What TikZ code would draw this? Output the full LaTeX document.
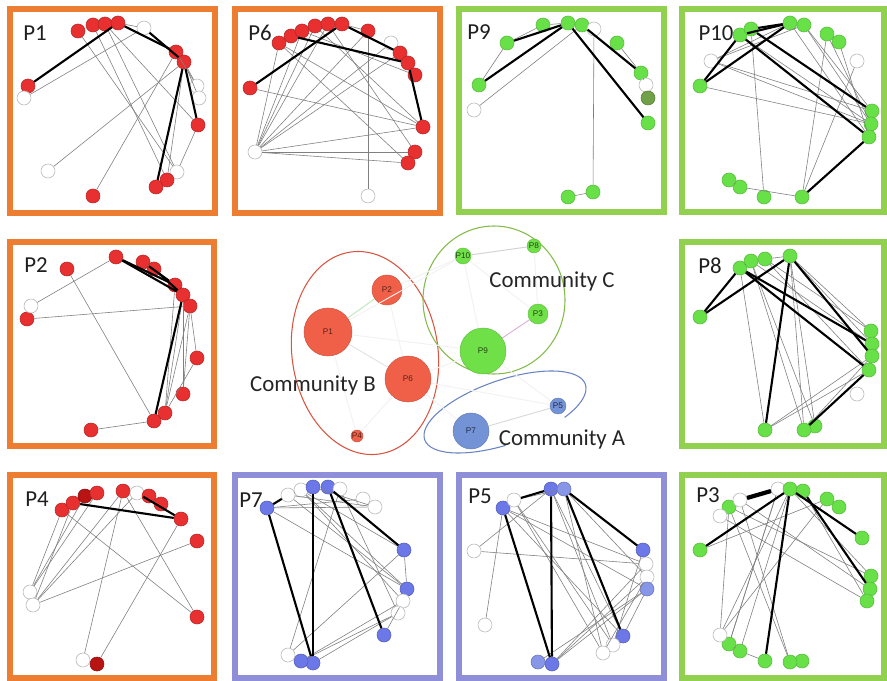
\documentclass[tikz,border=0pt]{standalone}
\usepackage{fontspec}
\setmainfont{Carlito}
\setsansfont{Liberation Sans}
\definecolor{frO}{RGB}{237,125,49}
\definecolor{frG}{RGB}{146,208,80}
\definecolor{frB}{RGB}{143,143,217}
\definecolor{ndR}{RGB}{232,48,48}
\definecolor{ndD}{RGB}{185,20,20}
\definecolor{ndG}{RGB}{104,224,72}
\definecolor{ndO}{RGB}{112,160,72}
\definecolor{ndB}{RGB}{108,120,232}
\definecolor{ndL}{RGB}{136,150,232}
\definecolor{cmR}{RGB}{240,96,72}
\definecolor{cmG}{RGB}{112,224,72}
\definecolor{cmB}{RGB}{116,146,214}
\begin{document}
\begin{tikzpicture}[x=0.03cm, y=-0.03cm,
  box/.style={line width=4.3pt},
  lbl/.style={font=\fontsize{19.5}{22}\selectfont, text=black!88},
  vx/.style={circle, draw, line width=0.5pt, minimum size=4.2mm, inner sep=0pt},
  rn/.style={vx, fill=ndR, draw=ndR!80!black},
  dr/.style={vx, fill=ndD, draw=ndD!80!black},
  gn/.style={vx, fill=ndG, draw=ndG!85!black},
  ov/.style={vx, fill=ndO, draw=ndO!80!black},
  bn/.style={vx, fill=ndB, draw=ndB!80!black},
  lb/.style={vx, fill=ndL, draw=ndL!80!black},
  wn/.style={vx, fill=white, draw=gray!55},
  lk/.style={draw=black!50, line width=0.5pt},
  hk/.style={draw=black, line width=1.8pt},
  cnode/.style={circle, inner sep=0pt, font=\sffamily\fontsize{7}{8}\selectfont},
  cr/.style={cnode, fill=cmR, draw=cmR!85!black, text=cmR!35!black},
  cg/.style={cnode, fill=cmG, draw=cmG!85!black, text=cmG!30!black},
  cb/.style={cnode, fill=cmB, draw=cmB!85!black, text=cmB!30!black},
  ce/.style={draw=gray!22, line width=0.8pt},
  comm/.style={font=\fontsize{19.5}{22}\selectfont, text=black!85}]
\useasboundingbox (0,0) rectangle (887,681);
\fill[white] (0,0) rectangle (887,681);

\draw[box, draw=frO] (10,9) rectangle (215,213);
\draw[box, draw=frO] (235,9) rectangle (440,213);
\draw[box, draw=frG] (459,9) rectangle (664,212);
\draw[box, draw=frG] (682,9) rectangle (884,212);
\draw[box, draw=frO] (10,242) rectangle (214,446);
\draw[box, draw=frG] (682,242) rectangle (884,446);
\draw[box, draw=frO] (10,475) rectangle (214,678);
\draw[box, draw=frB] (235,475) rectangle (440,678);
\draw[box, draw=frB] (459,475) rectangle (664,678);
\draw[box, draw=frG] (682,475) rectangle (884,678);

\node[lbl] (t1) at (35,33) {P1};
\node[lbl] (t6) at (260,33) {P6};
\node[lbl] (t9) at (479,32) {P9};
\node[lbl] (t10) at (716,33) {P10};
\node[lbl] (t2) at (36,265) {P2};
\node[lbl] (t8) at (710,266) {P8};
\node[lbl] (t4) at (37,499) {P4};
\node[lbl] (t7) at (251,500) {P7};
\node[lbl] (t5) at (480,496) {P5};
\node[lbl] (t3) at (708,495) {P3};

\foreach \n/\s/\x/\y in {a/rn/78/31, b/rn/93/25, c/rn/105/24, d/rn/118/23, e/wn/144/28, f/rn/176/52,
  g/rn/184/62, h/wn/197/86, i/wn/199/98, j/rn/198/125, k/wn/177/172, l/rn/167/180, m/rn/156/187,
  n/rn/93/196, o/wn/48/171, p/rn/28/86, q/wn/24/98}
  \node[\s] (p1\n) at (\x,\y) {};
\foreach \u/\v in {q/e, a/k, b/l, c/j, c/k, f/n, g/o, g/l, g/h, g/i, j/k, d/e, f/h}
  \draw[lk] (p1\u) -- (p1\v);
\foreach \u/\v in {p/d, d/f, e/g, g/m, g/j}
  \draw[hk] (p1\u) -- (p1\v);

\foreach \n/\s/\x/\y in {a/rn/279/43, b/rn/291/36, c/rn/302/31, d/rn/315/26, e/rn/328/24, f/rn/342/24,
  g/rn/368/31, h/wn/391/43, i/rn/400/53, j/rn/408/63, k/rn/415/75, l/rn/423/127, m/rn/415/152,
  n/rn/408/163, o/wn/368/196, p/wn/255/152, q/rn/250/88}
  \node[\s] (p6\n) at (\x,\y) {};
\foreach \u/\v in {p/a, p/c, p/d, p/e, p/g, p/h, p/i, p/l, p/n, p/m, q/l, o/g, a/l, d/l, c/k, e/m,
  a/n, h/i, f/g}
  \draw[lk] (p6\u) -- (p6\v);
\foreach \u/\v in {q/f, b/j, f/i, j/l}
  \draw[hk] (p6\u) -- (p6\v);

\foreach \n/\s/\x/\y in {a/gn/543/25, b/gn/568/23, c/gn/582/25, d/wn/594/29, e/gn/617/43, f/gn/641/73,
  g/wn/646/85, h/ov/648/98, i/gn/648/123, j/gn/593/192, k/gn/568/197, l/gn/507/43, m/gn/479/85,
  n/wn/474/110}
  \node[\s] (p9\n) at (\x,\y) {};
\foreach \u/\v in {l/a, m/l, n/c, d/j, j/k, e/f, f/g, a/b}
  \draw[lk] (p9\u) -- (p9\v);
\foreach \u/\v in {l/b, m/b, c/f, b/i}
  \draw[hk] (p9\u) -- (p9\v);

\foreach \n/\s/\x/\y in {a/gn/740/35, b/gn/751/29, c/gn/790/23, d/gn/804/25, e/gn/827/34, f/gn/839/42,
  g/wn/857/61, h/gn/872/111, i/gn/871/124, j/gn/869/137, k/gn/802/197, l/gn/764/197, m/gn/740/187,
  n/gn/729/180, o/wn/711/61, p/gn/700/86}
  \node[\s] (p10\n) at (\x,\y) {};
\foreach \u/\v in {o/d, o/h, p/i, o/i, a/i, e/k, f/j, g/k, b/l, m/k, n/m, d/h, d/i, c/j, e/i, o/c}
  \draw[lk] (p10\u) -- (p10\v);
\foreach \u/\v in {b/c, a/c, p/a, p/c, a/j, b/h, j/k}
  \draw[hk] (p10\u) -- (p10\v);

\foreach \n/\s/\x/\y in {a/rn/67/269, b/rn/116/257, c/rn/143/262, d/rn/154/269, e/rn/175/285,
  f/rn/183/295, g/rn/190/306, h/rn/197/358, i/rn/183/394, j/rn/165/413, k/rn/154/421, l/rn/91/430,
  m/rn/27/319, n/wn/31/306}
  \node[\s] (p2\n) at (\x,\y) {};
\foreach \u/\v in {a/k, n/b, m/g, l/k, j/h, j/f, i/f, g/h, e/j, g/i, c/d, g/j}
  \draw[lk] (p2\u) -- (p2\v);
\foreach \u/\v in {b/e, b/f, c/e, f/k, d/f}
  \draw[hk] (p2\u) -- (p2\v);

\foreach \n/\s/\x/\y in {a/gn/740/268, b/gn/751/261, c/gn/765/259, d/gn/790/256, e/gn/871/331,
  f/gn/872/344, g/gn/872/356, h/gn/869/370, i/wn/857/394, j/gn/815/426, k/gn/804/430, l/gn/765/430,
  m/gn/700/317}
  \node[\s] (p8\n) at (\x,\y) {};
\foreach \u/\v in {a/l, b/k, c/e, d/e, b/j, l/h, l/g, k/g, d/k, c/h, d/f, c/d, a/b, b/f, d/j}
  \draw[lk] (p8\u) -- (p8\v);
\foreach \u/\v in {m/a, m/d, a/f, a/h, d/g, d/l, h/k}
  \draw[hk] (p8\u) -- (p8\v);

\foreach \n/\s/\x/\y in {a/rn/62/510, b/rn/73/503, c/dr/85/496, d/rn/97/493, e/rn/123/491,
  f/wn/137/493, g/rn/149/496, h/rn/161/504, i/rn/181/519, j/rn/197/541, k/rn/197/617, l/dr/97/664,
  m/wn/83/660, n/wn/30/592, o/wn/33/605}
  \node[\s] (p4\n) at (\x,\y) {};
\foreach \u/\v in {n/a, n/c, n/d, o/b, o/e, o/f, o/j, m/e, l/i, a/k, e/k}
  \draw[lk] (p4\u) -- (p4\v);
\foreach \u/\v in {b/i, f/i}
  \draw[hk] (p4\u) -- (p4\v);

\foreach \n/\s/\x/\y in {a/bn/267/508, b/wn/288/495, c/wn/301/490, d/bn/313/487, e/bn/328/487,
  f/wn/340/489, g/wn/363/499, h/wn/375/507, i/bn/404/550, j/bn/407/589, k/wn/403/601, l/wn/398/613,
  m/bn/384/635, n/bn/313/663, o/bn/301/661, p/wn/288/655}
  \node[\s] (p7\n) at (\x,\y) {};
\foreach \u/\v in {a/h, a/g, a/j, b/j, c/k, c/i, f/l, p/f, o/k, o/l, n/l, p/i, d/h, b/h, c/j, i/j,
  m/k, b/c}
  \draw[lk] (p7\u) -- (p7\v);
\foreach \u/\v in {a/n, d/n, e/i, e/m, a/b}
  \draw[hk] (p7\u) -- (p7\v);

\foreach \n/\s/\x/\y in {a/bn/503/508, b/wn/514/500, c/bn/551/489, d/lb/564/489, e/bn/643/550,
  f/wn/646/564, g/wn/647/577, h/lb/647/589, i/bn/623/636, j/wn/613/645, k/wn/603/653, l/bn/552/664,
  m/lb/538/662, n/wn/485/625, o/wn/474/551}
  \node[\s] (p5\n) at (\x,\y) {};
\foreach \u/\v in {o/c, o/f, n/a, b/j, b/k, a/i, a/h, c/i, c/j, d/k, d/g, l/f, l/g, l/h, m/h, k/g,
  j/e, i/h, b/d, a/f}
  \draw[lk] (p5\u) -- (p5\v);
\foreach \u/\v in {a/l, c/l, c/b, d/i, d/e}
  \draw[hk] (p5\u) -- (p5\v);

\foreach \n/\s/\x/\y in {a/gn/729/507, b/wn/740/500, c/wn/720/516, d/wn/778/489, e/gn/790/489,
  f/gn/803/491, g/gn/827/499, h/gn/839/507, i/gn/862/538, j/gn/871/576, k/gn/870/589, l/gn/867/601,
  m/gn/802/661, n/gn/790/662, o/gn/765/661, p/gn/740/651, q/gn/729/644, r/wn/720/635, s/gn/700/550}
  \node[\s] (p3\n) at (\x,\y) {};
\foreach \u/\v in {a/j, b/k, c/l, r/a, r/e, q/d, p/e, n/b, s/g, o/p, p/q, a/n, d/q, e/j, f/l, g/r}
  \draw[lk] (p3\u) -- (p3\v);
\foreach \u/\v in {s/e, e/o, e/i, f/k}
  \draw[hk] (p3\u) -- (p3\v);
\draw[hk, line width=3.6pt] (p3b) -- (p3d);

\draw[draw=cmR!90!black, line width=0.9pt, rotate around={8:(365,353)}] (365,353) ellipse [x radius=73, y radius=102];
\draw[draw=frG!90!black, line width=0.9pt] (494,300) ellipse [x radius=71, y radius=74];
\begin{scope}[shift={(505,412)}, rotate=19]
  \draw[draw=cmB!90!black, line width=0.9pt] (50:85 and 32) arc[start angle=50, end angle=-263, x radius=85, y radius=32];
\end{scope}

\node[cr, minimum size=14.4mm] (c1) at (328,332) {P1};
\node[cr, minimum size=9mm] (c2) at (387,290) {P2};
\node[cr, minimum size=13.8mm] (c6) at (408,379) {P6};
\node[cr, minimum size=3.6mm] (c4) at (357,436) {P4};
\node[cg, minimum size=13.8mm] (c9) at (483,351) {P9};
\node[cg, minimum size=6mm] (c3) at (538,314) {P3};
\node[cg, minimum size=4.8mm] (c10) at (463,256) {P10};
\node[cg, minimum size=4.2mm] (c8) at (534,246) {P8};
\node[cb, minimum size=10.8mm] (c7) at (471,431) {P7};
\node[cb, minimum size=4.8mm] (c5) at (558,406) {P5};

\foreach \u/\v in {2/6, 1/9, 6/9, 10/9, 10/3, 8/3, 6/7, 4/6, 4/1, 9/5, 2/10, 6/5, 1/10}
  \draw[ce, draw=gray!10] (c\u) -- (c\v);
\draw[ce, draw=green!50!gray!35] (c1) -- (c2);
\draw[ce] (c1) -- (c6);
\draw[ce, draw=gray!35] (c10) -- (c8);
\draw[ce, draw=violet!30] (c9) -- (c3);
\draw[ce, draw=gray!30] (c7) -- (c5);

\node[comm] (kB) at (313,385) {Community B};
\node[comm] (kC) at (552,281) {Community C};
\node[comm] (kA) at (562,439) {Community A};
\end{tikzpicture}
\end{document}
